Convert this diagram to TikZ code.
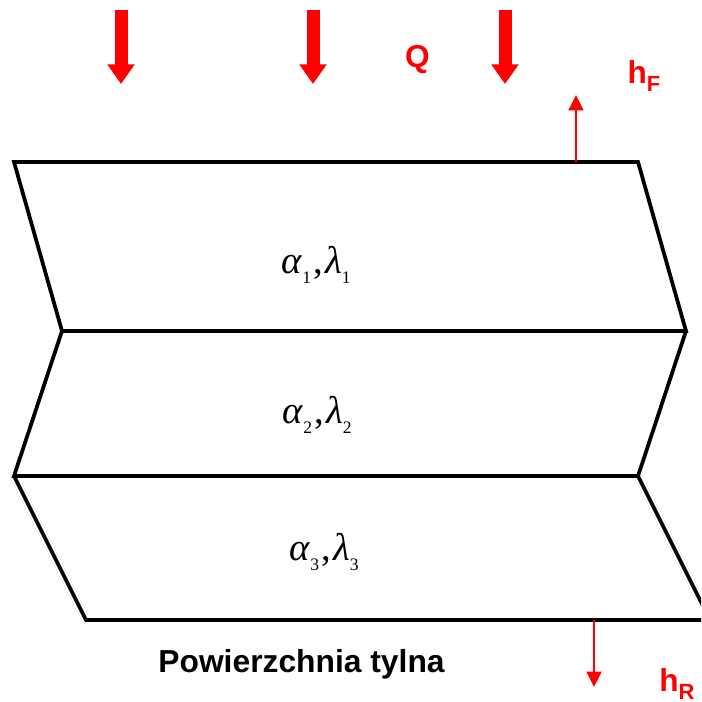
\documentclass[tikz,border=0pt]{standalone}
\usepackage{fontspec}
\setmainfont{Liberation Sans}
\newfontfamily\greekfont{Liberation Serif}
\usetikzlibrary{arrows.meta}
\newcommand{\matlabel}[1]{{\greekfont\fontsize{22}{22}\selectfont\textit{α}\raisebox{-0.55ex}{\fontsize{10}{10}\selectfont #1}\kern1.2pt,\kern1.2pt\textit{λ}\raisebox{-0.55ex}{\fontsize{10}{10}\selectfont #1}}}
\tikzset{
    layerline/.style={line width=0.075cm, line join=miter},
    heatarrow/.style={red, line width=0.26cm, -{Triangle[length=0.39cm,width=0.52cm]}},
    thinarrow/.style={red, line width=0.04cm, -{Triangle[length=0.31cm,width=0.3cm]}},
    redlabel/.style={text=red, font=\fontsize{18}{18}\selectfont\bfseries},
}
\begin{document}
\begin{tikzpicture}[x=0.02cm,y=-0.02cm]
        \useasboundingbox (0,0) rectangle (701,702);
        \clip (0,0) rectangle (701,702);

        % Corners
        \coordinate (tl) at (14,162);
        \coordinate (tr) at (638,162);
        \coordinate (ml) at (62,331);
        \coordinate (mr) at (686,331);
        \coordinate (nl) at (14,476);
        \coordinate (nr) at (638,476);
        \coordinate (bl) at (86,620);
        \coordinate (br) at (710,620);

        % Layers
        \draw[layerline] (tl) -- (tr) -- (mr) -- (ml) -- cycle;
        \draw[layerline] (ml) -- (nl) -- (nr) -- (mr);
        \draw[layerline] (nl) -- (bl) -- (br) -- (nr);

        % Labels
        \node (mat1) at (316,265) {\matlabel{1}};
        \node (mat2) at (317,415) {\matlabel{2}};
        \node (mat3) at (324,552) {\matlabel{3}};
        \node[font=\fontsize{18.1}{18.1}\selectfont\bfseries] (back) at (301.5,664) {Powierzchnia tylna};
        \node[redlabel] (q) at (417.5,60) {Q};
        \node[redlabel] (hf) at (644,76) {h\raisebox{-0.45ex}{\fontsize{12.5}{12.5}\selectfont F}};
        \node[redlabel] (hr) at (677,684) {h\raisebox{-0.45ex}{\fontsize{12.5}{12.5}\selectfont R}};

        % Heat arrows
        \coordinate (q1a) at (121,10);
        \coordinate (q1b) at (121,84);
        \coordinate (q2a) at (313,10);
        \coordinate (q2b) at (313,84);
        \coordinate (q3a) at (505,10);
        \coordinate (q3b) at (505,84);
        \draw[heatarrow] (q1a) -- (q1b);
        \draw[heatarrow] (q2a) -- (q2b);
        \draw[heatarrow] (q3a) -- (q3b);

        % Arrows
        \coordinate (fa) at (576,162);
        \coordinate (fb) at (576,95);
        \coordinate (ra) at (594,620);
        \coordinate (rb) at (594,687);
        \draw[thinarrow] (fa) -- (fb);
        \draw[thinarrow] (ra) -- (rb);
    \end{tikzpicture}
\end{document}
